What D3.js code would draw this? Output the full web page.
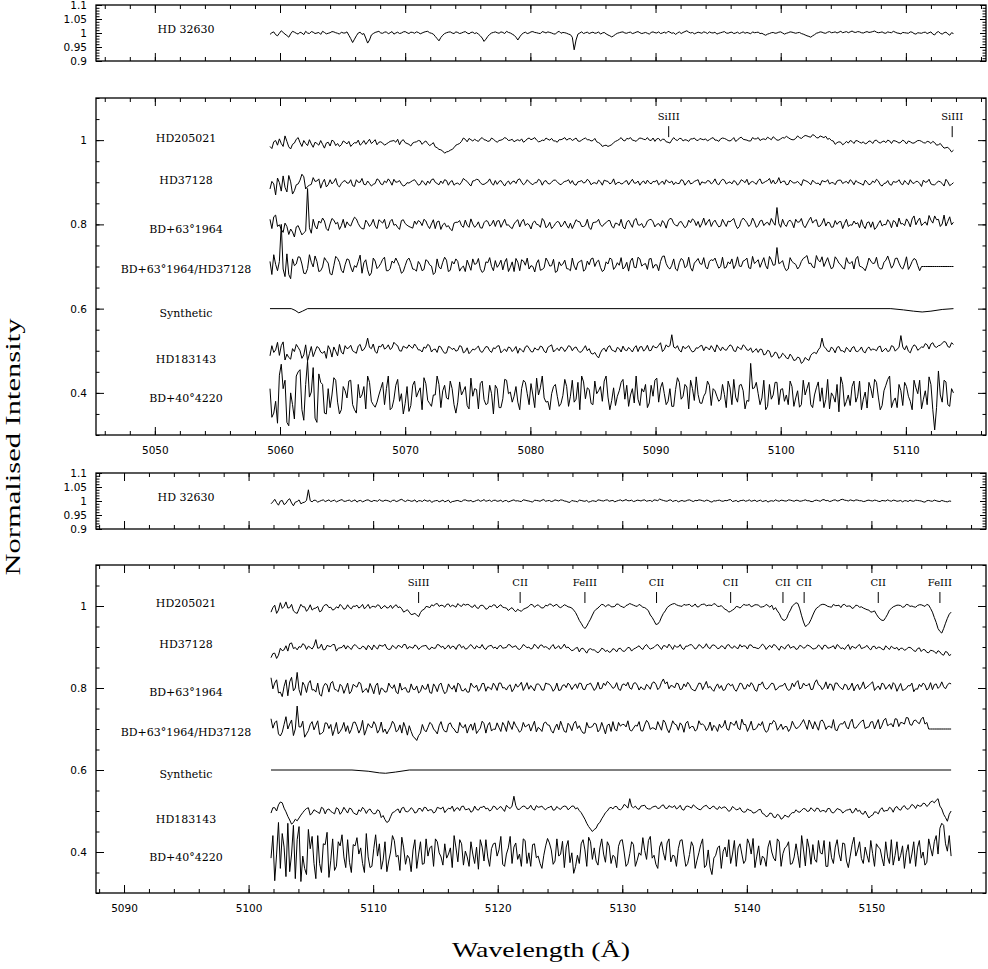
<!DOCTYPE html>
<html lang="en">
<head>
<meta charset="UTF-8" />
<title>Normalised spectra</title>
<script src="https://d3js.org/d3.v7.min.js"></script>
<style>
  body { margin: 0; background: #fff; }
  svg { display: block; }
</style>
</head>
<body>
<svg width="988" height="969"></svg>
<script>
// wavelength sampling of the spectra (Angstrom); "mid" arrays hold the samples half a step further on
const gridA = { start: 5059.2, step: 0.3 };   // upper window
const gridB = { start: 5101.8, step: 0.3 };   // lower window

// intensities, in thousandths of the continuum
const hd32630A = [995,1004,990,1008,996,985,1006,999,1003,994,1000,1005,998,1002,1006,997,1001,1004,999,1003,
  1000,992,966,990,1003,998,964,993,1002,1006,999,1004,1001,996,1003,1000,1005,998,1002,1004,
  997,1003,1006,999,988,972,992,1001,1004,998,1002,1000,1005,997,1003,1001,990,970,988,1000,
  1004,999,1002,1006,1000,992,975,995,1003,1000,1005,1001,998,1003,1004,1000,996,1006,1002,999,
  994,940,996,1004,1001,998,1003,1000,996,1002,993,986,995,1001,1004,999,1003,1000,1005,998,
  1002,996,1004,1000,998,1003,1006,999,995,1004,1002,1008,1000,997,1003,999,1002,1004,1000,996,
  1001,1005,999,1003,1000,998,1004,1002,997,1001,1003,999,992,998,1002,1000,1004,996,1001,1003,
  999,1002,996,990,985,994,1001,1003,999,1005,1002,1000,1006,1003,1001,1007,1002,1004,1000,1005,
  1003,1007,1001,1004,999,1002,1006,1000,997,1001,999,1003,996,1000,1002,998,1004,993,1005,996,
  1003,992,998];
const hd32630Amid = [1001,994,999,1002,991,997,1003,996,1000,1006,998,1003,1000,995,1002,999,1005,1001,996,1000,
  1004,980,978,1000,995,982,975,998,1004,1000,1003,997,1005,1000,998,1004,1001,1003,999,1002,
  1000,1005,1001,996,980,984,998,1003,1000,1004,998,1003,1000,1002,998,996,982,978,995,1002,
  1001,1004,998,1002,996,985,986,1000,998,1004,1002,999,1005,1000,1002,997,1003,999,1001,996,
  985,975,1000,998,1003,1001,999,1004,1000,997,990,990,999,1003,1000,1002,998,1003,1001,1000,
  999,1002,1001,1004,1000,999,1003,1001,1000,998,1005,1003,1002,1000,1001,1004,998,1001,1003,999,
  1003,1000,1002,998,1003,1001,999,1000,1004,1002,998,995,996,1001,999,1003,1000,999,1004,1001,
  1001,998,993,988,990,999,1004,1000,1003,1001,1004,1003,1001,1005,1004,1003,1005,1001,1003,1002,
  1005,1003,1002,1000,1004,1001,1003,999,1002,1000,1004,998,1001,999,1003,1001,996,1002,999,1001,
  997,1001];

const hd205021A = [985,996,988,992,1010,984,990,1002,994,999,987,991,995,988,990,993,986,997,992,989,
  995,997,990,993,988,999,996,992,1001,995,993,991,997,999,1002,998,994,990,993,996,
  998,995,992,990,984,978,974,972,976,982,990,997,1002,1004,998,999,1003,1001,997,1005,
  998,999,1002,1004,1000,996,1001,1003,998,1005,1003,1000,997,999,1002,1004,998,1001,1003,1000,
  1004,1002,998,1000,1005,1001,999,996,991,987,985,989,997,1002,1000,1004,1006,999,1002,1004,
  1001,1000,1005,1003,998,1002,995,1000,1001,1004,998,1000,1003,1005,999,1002,1003,1001,1006,1000,
  1003,1004,999,1001,997,1005,1002,1000,998,1003,1006,1002,1001,1004,1008,1000,1003,1005,1006,1001,
  1004,1006,1008,1010,1007,1011,1005,1008,1009,1004,998,994,995,992,993,997,999,995,996,993,
  997,999,995,996,994,998,999,996,995,997,998,993,996,999,994,997,992,994,989,986,
  982,978,976];
const hd205021Amid = [980,999,1003,985,997,979,993,1006,985,992,1001,983,992,999,981,995,1000,987,985,998,
  991,985,994,1000,992,990,1002,996,989,996,988,994,998,995,989,1001,992,986,995,999,
  990,998,987,994,982,977,969,973,978,988,992,1005,996,1001,1002,997,1006,1000,998,1002,
  995,1000,1006,999,1002,999,998,995,1003,1001,1006,996,1000,1005,1000,998,995,1001,1006,1003,
  999,1005,997,1003,1001,998,1004,994,985,988,987,994,999,1006,998,1003,1000,997,1005,1002,
  1006,999,997,1004,1002,996,993,1006,999,1004,1001,997,1003,1000,1004,1001,998,1004,1000,997,
  1005,1002,998,1006,1000,1007,1001,998,1006,1003,999,1003,1007,1001,1004,1000,1006,1009,1003,1001,
  1010,1004,1011,1008,1013,1006,1010,1006,1002,999,990,996,989,997,999,992,998,993,991,998,
  992,1000,993,998,1000,992,998,993,1000,991,996,993,999,997,993,996,997,988,992,981,
  983,972];

const hd37128A = [884,896,910,879,888,916,872,894,905,913,890,895,902,908,899,889,906,901,893,897,
  904,898,892,906,900,895,903,891,897,905,894,899,902,907,901,896,893,898,904,900,
  895,899,903,906,900,894,897,904,901,893,898,900,905,896,903,907,899,895,901,898,
  904,902,897,899,895,903,906,900,898,901,894,899,904,902,897,900,905,896,899,903,
  897,895,901,904,900,903,898,896,901,905,902,899,894,900,897,904,901,898,903,900,
  896,899,902,905,898,895,901,903,900,897,904,899,896,902,906,901,898,903,900,897,
  902,905,899,896,901,898,903,907,900,899,904,897,902,909,905,900,898,903,895,901,
  899,897,906,902,894,900,898,904,901,896,899,903,905,900,897,902,904,898,893,900,
  896,899,903,891,898,895,902,901,897,904,894,899,902,897,905,901,896,894,903,897,
  907,892,899];
const hd37128Amid = [902,870,899,915,877,901,880,896,919,884,893,911,903,886,907,894,896,909,889,902,
  898,906,890,900,909,894,897,895,908,896,903,908,893,900,904,891,899,901,906,893,
  904,893,897,908,897,903,906,893,904,897,894,909,902,891,904,906,895,898,908,893,
  895,904,891,903,901,897,908,894,906,897,899,907,893,904,896,905,901,894,902,906,
  904,893,902,898,907,894,899,905,893,903,896,908,899,896,902,894,907,898,893,903,
  905,896,901,894,903,906,899,894,897,906,893,905,898,904,893,899,904,896,908,894,
  907,896,901,904,893,906,899,894,902,895,908,899,904,897,896,911,902,894,905,898,
  902,892,904,899,905,897,893,902,906,899,894,905,897,902,906,894,900,896,905,894,
  903,907,894,897,904,893,900,906,894,899,906,897,902,890,900,907,894,898,901,891,
  901,895];

const bd63A = [812,818,795,788,803,776,782,794,786,780,885,779,796,808,815,790,801,810,805,797,
  792,799,808,813,794,789,804,801,796,811,803,790,807,798,793,809,802,795,791,800,
  806,812,797,801,790,808,799,794,789,803,805,797,810,793,801,798,792,804,807,800,
  795,809,803,798,793,801,811,806,797,799,804,800,793,808,796,790,802,805,799,798,
  803,800,807,795,798,792,804,806,799,801,809,796,803,797,794,805,801,810,799,802,
  797,811,806,800,795,803,808,813,798,805,799,796,804,809,807,802,798,812,805,801,
  796,803,808,810,799,795,815,804,800,806,797,810,803,798,805,840,793,800,807,804,
  812,806,798,801,817,809,795,803,796,804,794,800,807,802,795,798,801,792,797,804,
  793,788,802,796,799,805,809,794,801,797,806,813,799,815,802,798,810,820,812,801,
  796,818,805];
const bd63Amid = [790,822,799,781,795,789,770,797,775,784,792,812,789,803,808,785,814,801,788,812,
  806,796,817,802,790,810,795,812,790,807,812,793,812,800,788,811,798,793,808,809,
  797,808,790,811,806,788,803,797,785,805,809,793,798,813,793,806,791,809,796,810,
  808,793,812,799,790,807,794,812,802,789,808,799,814,792,805,795,807,794,808,791,
  790,811,806,795,812,788,805,812,795,804,809,791,802,812,789,810,793,814,798,792,
  808,812,794,802,809,791,814,802,796,807,792,810,813,797,793,815,806,795,810,794,
  812,795,806,814,790,809,810,795,815,793,808,797,805,814,798,802,812,795,810,792,
  805,814,792,810,803,811,796,814,805,793,809,806,790,812,799,808,804,811,790,806,
  806,793,809,800,811,792,806,815,802,813,794,820,808,797,806,821,803,811,795,822,
  807,799];

const ratioA = [712,728,690,800,676,681,718,706,722,684,695,710,725,688,699,714,683,702,719,691,
  704,716,687,698,727,709,692,685,713,700,717,690,695,708,711,684,702,720,694,689,
  705,693,713,701,686,699,710,715,691,706,712,697,688,703,718,707,695,690,709,700,
  714,705,692,719,698,688,710,716,703,694,700,708,691,697,712,702,686,711,706,695,
  690,701,709,715,693,704,720,711,698,692,706,717,699,703,694,710,713,698,722,701,
  707,718,696,704,712,725,698,703,694,709,715,701,697,708,719,705,699,712,714,707,
  700,696,711,718,704,701,713,720,695,707,716,710,702,724,703,745,709,698,694,712,
  705,700,719,726,708,697,715,723,711,706,699,717,704,694,709,712,718,701,696,703,
  713,708,700,695,715,711,703,720,698,706,693,712,716,690,700,700,700,700,700,700,
  700,700,700];
const ratioAmid = [681,705,712,694,730,671,702,723,706,683,728,699,712,690,721,708,680,724,710,685,
  718,699,702,712,684,716,678,720,695,707,722,690,713,720,700,688,715,709,693,712,
  690,716,704,681,718,694,722,688,712,718,689,701,715,691,705,719,686,711,721,690,
  698,715,710,688,711,719,690,713,720,702,687,716,693,720,701,717,689,702,715,694,
  720,692,712,689,713,718,700,715,688,711,720,693,709,721,699,689,720,697,718,705,
  693,719,704,690,724,707,694,718,690,719,697,722,689,713,707,721,694,716,720,696,
  722,698,706,695,723,700,715,697,724,711,698,721,694,716,704,707,714,690,721,708,
  694,712,722,707,699,726,711,700,721,694,723,708,697,721,707,694,724,699,690,720,
  707,722,694,710,725,696,719,708,694,723,701,719,702,700,700,700,700,700,700,700,
  700,700];

const synthWaveA = [5059.2, 5060.9, 5061.2, 5061.5, 5061.8, 5062.2, 5108.8, 5109.8, 5110.6, 5111.3, 5112.0, 5112.9, 5113.8];
const synthA = [600, 600, 596, 590, 594, 600, 600, 597, 594, 592, 594, 598, 600];

const hd183143A = [488,496,520,512,478,484,505,515,500,490,476,510,498,507,494,482,503,509,488,497,
  512,507,500,494,515,503,530,505,498,511,516,507,503,520,512,499,508,514,506,510,
  502,509,515,497,504,511,500,495,508,506,501,510,498,493,504,507,499,503,509,496,
  505,512,500,498,507,503,494,501,509,506,497,503,511,499,508,514,502,500,506,504,
  510,507,501,498,512,505,492,488,495,506,509,502,497,505,511,500,503,507,498,510,
  504,500,512,507,519,503,509,538,506,501,511,508,503,499,506,513,509,502,505,514,
  500,503,508,511,498,506,514,502,507,500,496,503,492,499,488,494,485,490,481,486,
  478,483,474,480,489,496,502,530,506,498,504,508,500,496,503,507,499,502,498,505,
  501,503,509,497,506,500,510,504,536,502,499,507,511,505,508,514,516,510,512,518,
  520,508,515];
const hd183143Amid = [512,502,489,521,492,480,498,508,482,514,493,486,510,497,499,512,485,499,515,492,
  505,513,497,511,500,511,508,516,494,509,504,514,507,515,500,511,506,509,516,502,
  497,506,512,503,496,509,494,510,503,499,512,495,507,498,502,511,496,510,500,507,
  511,495,504,509,498,510,506,497,512,498,507,502,509,495,511,497,506,509,498,512,
  500,509,496,505,500,494,496,483,503,498,512,500,508,497,502,508,497,512,509,499,
  513,501,508,513,498,514,512,509,512,497,505,512,497,507,511,500,507,512,497,507,
  509,501,514,500,510,503,510,501,496,505,504,490,501,485,497,482,494,483,492,477,
  485,470,484,477,494,493,508,510,499,509,495,510,500,508,497,510,498,509,495,509,
  504,500,511,502,498,512,499,508,509,512,495,514,501,509,517,504,519,508,513,522,
  510,519];

const bd40A = [410,352,328,468,430,322,372,440,455,335,475,402,340,445,420,350,365,436,378,360,
  405,428,372,352,388,415,440,380,366,395,425,410,360,385,432,398,375,356,418,390,
  412,436,382,368,395,420,405,388,428,372,378,395,415,362,392,408,422,384,375,398,
  418,365,386,430,402,392,378,410,425,372,395,435,412,388,380,398,420,368,394,415,
  392,378,425,440,386,408,372,398,415,428,390,382,370,405,432,418,395,376,385,410,
  420,376,392,435,412,398,380,368,408,425,392,414,430,382,396,375,400,418,410,392,
  385,396,428,372,390,418,405,382,470,412,398,388,360,420,395,425,408,380,372,415,
  388,366,430,410,372,395,426,412,384,362,392,420,438,368,395,415,378,428,385,364,
  410,432,390,370,418,440,380,365,405,425,392,360,412,430,385,372,420,312,452,378,
  426,368,400];
const bd40Amid = [342,380,442,410,330,400,338,450,360,420,390,460,330,425,352,410,395,430,350,415,
  388,430,360,420,395,362,425,372,378,410,372,440,365,418,380,350,415,370,428,402,
  360,422,375,395,440,365,418,385,410,352,426,405,370,435,410,362,428,372,418,350,
  410,365,432,398,378,415,360,430,398,422,365,395,440,378,360,415,392,375,432,368,
  430,385,360,426,412,375,428,405,380,440,360,412,392,425,385,368,410,440,370,402,
  365,418,430,378,425,372,410,368,436,385,420,362,410,438,376,392,428,370,405,380,
  420,365,412,432,378,420,362,380,410,425,372,430,368,385,425,372,410,395,428,368,
  405,372,395,425,365,412,380,365,432,400,378,355,420,380,370,428,392,360,402,425,
  388,425,360,405,432,365,388,420,370,415,380,430,398,362,405,438,360,365,395,430,
  372,410];

const hd32630B = [990,1006,985,1002,992,1008,983,998,990,996,1040,997,1002,999,1004,1001,998,1003,1000,1005,
  999,1003,1001,996,1002,1000,1004,998,1001,1005,999,1002,997,1003,1000,1006,998,1002,1000,996,
  1001,1004,999,995,1001,997,1003,1000,994,999,1002,998,1004,1000,997,1002,999,1005,1001,998,
  1003,1000,997,1002,999,1004,1001,998,1003,1000,996,1002,999,1005,1001,998,1004,1000,1003,999,
  995,1000,997,1002,999,996,1001,998,1003,1000,1004,1001,997,1002,1000,1005,1001,998,1003,1000,
  1004,1001,998,1003,1007,1002,999,1004,1001,997,1002,1000,1004,998,1001,1003,999,1002,996,1000,
  1003,999,1001,1005,1000,997,1002,999,1004,1001,998,1003,1000,996,1001,1004,999,1002,1000,1003,
  999,1002,1000,1004,1001,998,1003,999,1005,1002,1000,1004,1001,1006,1002,1004,1000,1003,1001,999,
  1003,1000,1002,998,1001,1004,999,1002,1000,997,1001,1003,999,1002,1000,996,1002,999,1001,998,
  1000,997,999];
const hd32630Bmid = [997,994,1000,987,1003,993,996,1004,994,1002,1001,1003,996,1002,998,1004,1001,997,1003,999,
  1002,998,1004,1001,997,1003,1000,1002,999,1001,1003,1000,1002,998,1004,1001,1003,999,1004,1001,
  998,1001,1003,999,1002,1000,997,1003,998,1001,999,1003,1001,1002,999,1004,1001,999,1003,1002,
  999,1003,1001,997,1002,1000,999,1004,1001,998,1003,1001,1003,999,1002,1000,1002,1004,1000,996,
  1002,999,1003,1000,1002,998,1000,1004,1001,1003,999,1002,1000,1004,1002,1001,1003,1000,1002,1003,
  999,1002,1004,1001,1004,1000,1003,998,1002,1000,999,1003,1001,1002,1004,1001,1003,998,1001,1002,
  1000,1002,1004,998,1002,1001,1003,1001,999,1003,1001,998,1002,1000,999,1001,1003,1000,1004,1001,
  1003,999,1002,1001,998,1002,1001,1004,1001,998,1003,1000,1005,1003,1000,1002,1004,1001,998,1002,
  1001,1003,999,1002,1000,1001,1003,999,1002,1001,998,1000,1003,1001,997,1001,1000,1003,999,1002,
  998,1000];

const hd205021B = [985,1002,990,994,1010,996,988,982,1004,998,993,990,995,986,999,1003,997,992,995,999,
  994,996,1000,1002,998,993,1004,999,997,1001,998,995,1002,1000,996,993,988,985,980,978,
  984,992,998,1003,1005,999,1001,1004,998,1000,1006,999,1002,1003,997,996,1001,999,994,998,
  1002,1000,997,995,993,990,992,987,994,999,1003,1001,998,996,1000,1004,1002,998,999,1001,
  997,990,975,958,945,960,978,992,1000,1003,1002,998,999,1004,998,1001,1006,1002,999,1001,
  996,988,972,955,962,982,996,1003,1006,1001,999,1002,1004,1000,998,1003,1005,1002,1001,1004,
  999,996,990,987,993,998,999,1002,1004,1000,1003,997,999,1001,1002,996,982,966,970,990,
  1004,1006,976,950,958,978,995,1002,1004,999,997,1001,1002,1003,999,1000,996,1001,998,993,
  990,986,980,968,965,980,994,1000,1002,997,1004,999,998,1001,1003,999,1002,985,960,938,
  945,970,985];
const hd205021Bmid = [996,982,1008,999,995,1004,984,993,998,987,1003,994,999,988,1003,996,990,998,1004,992,
  1003,993,999,995,1004,998,994,999,1003,993,1001,996,994,1003,998,985,991,979,982,974,
  990,999,996,1000,1006,1002,997,1005,1002,997,1001,1005,1004,998,1003,994,1002,992,1000,1003,
  995,1003,996,989,996,986,989,992,996,1004,997,1003,995,1002,1005,999,1004,996,1003,998,
  995,984,965,950,951,968,987,995,1004,998,1003,998,1005,1000,996,1003,1004,1000,1004,997,
  993,978,964,956,973,988,1000,1005,1003,1000,1004,1003,999,1005,998,1004,1000,1002,1006,999,
  1001,992,985,990,999,995,1004,1002,998,1003,1002,998,1004,997,991,988,972,965,982,1000,
  1008,993,961,953,967,988,998,1004,1002,998,1004,1001,996,1004,1000,994,1002,997,995,991,
  985,988,973,965,972,990,998,1002,1001,998,1003,1000,997,1003,1001,1004,994,972,945,934,
  958,980];

const hd37128B = [874,885,880,891,903,908,896,893,899,905,902,895,918,898,893,904,901,906,897,899,
  895,898,903,901,896,900,904,893,899,905,902,897,895,900,904,898,906,901,897,902,
  899,903,896,900,897,905,902,899,896,901,904,898,895,902,900,903,898,897,901,904,
  900,902,897,899,905,901,896,898,903,900,897,902,904,899,898,901,896,903,900,898,
  895,893,899,896,891,894,893,889,890,895,892,889,894,896,891,893,898,895,900,897,
  902,899,897,904,900,903,898,901,904,900,897,902,905,901,898,903,900,899,904,902,
  897,901,904,899,903,896,900,902,905,899,897,901,903,900,898,904,892,899,903,897,
  901,896,902,899,903,895,898,901,904,897,900,895,902,898,901,894,899,903,896,900,
  897,901,895,899,893,898,902,896,892,897,894,899,891,896,889,893,886,891,884,888,
  880,887,882];
const hd37128Bmid = [884,872,897,893,890,910,899,901,908,894,899,903,897,907,894,902,906,890,898,905,
  903,894,906,896,902,893,900,905,895,903,907,894,904,896,902,906,895,899,905,894,
  902,904,894,897,906,899,895,905,902,894,906,902,896,906,895,899,906,894,903,897,
  895,904,898,906,899,903,894,906,898,895,907,896,905,901,894,906,899,895,907,900,
  891,897,888,897,885,896,893,886,897,889,887,896,888,897,889,899,890,897,903,894,
  906,895,899,906,894,903,907,894,900,906,894,902,906,895,906,897,908,896,905,896,
  903,895,906,897,898,906,903,895,905,899,896,907,894,904,906,898,902,895,906,900,
  894,904,897,905,900,896,905,894,904,898,903,906,896,894,906,902,897,906,898,904,
  893,902,900,895,903,894,898,899,897,892,899,896,889,898,894,887,892,889,891,882,
  889,879];

const bd63B = [825,812,788,779,820,815,793,838,782,806,811,795,790,785,803,808,812,797,791,804,
  799,786,809,802,811,794,789,800,806,784,797,791,803,808,786,795,801,790,797,805,
  792,798,810,787,803,808,796,791,801,806,812,794,799,790,804,807,798,811,803,796,
  805,812,800,795,808,798,802,814,803,797,800,809,806,795,810,803,798,794,806,801,
  807,804,799,811,796,809,803,800,798,812,816,806,802,797,808,805,800,811,807,803,
  796,804,812,809,801,822,815,806,800,810,798,803,808,795,802,811,806,800,797,803,
  799,794,808,805,797,801,810,798,803,807,792,808,802,799,812,795,804,806,800,797,
  803,818,800,806,811,797,820,805,802,798,808,812,804,796,807,801,793,809,803,798,
  806,815,800,796,809,803,797,808,802,794,799,805,791,797,803,808,800,796,810,804,
  803,807,810];
const bd63Bmid = [798,820,790,804,781,826,800,796,814,789,818,796,812,780,811,790,816,795,809,787,
  812,792,805,814,789,799,811,786,812,800,790,812,799,790,812,799,790,810,796,788,
  807,797,789,810,791,812,786,810,797,790,808,793,790,812,801,792,811,792,800,812,
  794,812,801,804,791,810,807,794,813,806,793,810,795,812,809,792,812,795,808,812,
  796,810,812,797,808,812,794,814,799,806,812,799,813,794,810,814,797,813,795,798,
  809,797,815,796,814,810,798,805,812,796,810,814,798,793,812,796,816,804,792,810,
  806,796,811,809,792,812,798,809,813,795,809,815,797,806,810,798,805,812,794,812,
  813,798,812,806,796,813,808,796,815,810,794,812,800,809,795,812,804,796,815,803,
  811,794,805,812,797,809,813,792,811,796,806,812,798,809,812,795,813,808,799,815,
  798,812];

const ratioB = [725,715,688,692,730,712,684,756,705,680,696,718,709,687,693,714,711,699,688,702,
  694,689,716,706,700,685,713,703,710,698,692,688,705,712,697,690,703,708,682,672,
  690,698,704,712,695,708,701,693,715,700,691,706,711,704,697,689,702,713,709,695,
  699,704,716,694,709,718,701,697,705,712,707,693,700,714,710,696,703,698,706,692,
  708,713,701,697,690,704,706,712,699,703,709,694,700,716,711,705,698,702,707,696,
  710,715,703,698,707,722,700,704,712,697,709,714,701,706,699,711,708,703,696,704,
  712,707,700,717,709,702,724,711,705,698,703,708,700,696,712,716,704,699,706,701,
  709,703,715,711,722,700,707,719,714,706,702,698,709,712,705,716,703,708,719,701,
  705,718,712,700,722,708,713,725,706,715,728,711,720,716,724,712,700,700,700,700,
  700,700,700];
const ratioBmid = [702,720,683,711,700,722,700,705,719,688,711,698,720,689,715,701,684,716,694,716,
  708,699,717,690,721,698,706,718,690,717,700,697,719,693,710,716,685,694,678,684,
  711,693,716,700,688,718,694,712,704,692,716,703,690,712,715,696,719,690,716,700,
  715,694,708,720,699,708,692,716,708,695,719,704,694,717,709,690,712,719,694,714,
  696,719,708,690,716,704,714,693,716,688,712,718,695,707,711,720,695,709,718,695,
  721,699,702,718,697,716,691,720,710,715,692,719,706,695,720,712,696,717,709,694,
  703,721,697,712,720,698,711,694,719,699,713,718,692,714,721,697,712,706,694,719,
  701,708,723,699,712,718,697,722,699,707,723,696,713,719,700,724,702,714,722,704,
  717,700,723,709,726,711,705,724,716,712,727,709,722,713,729,716,700,700,700,700,
  700,700];

const synthWaveB = [5101.8, 5108.3, 5109.6, 5110.5, 5111.0, 5111.8, 5112.9, 5156.4];
const synthB = [600, 600, 597, 593, 592, 595, 600, 600];

const hd183143B = [495,508,515,520,498,478,472,476,490,502,508,495,500,494,506,503,499,493,505,498,
  502,507,496,491,499,504,502,497,494,500,489,472,486,498,505,507,499,501,504,497,
  506,509,500,503,498,507,510,502,505,499,508,511,503,506,500,504,509,512,507,503,
  510,508,505,514,506,536,504,509,511,507,505,513,510,506,508,512,503,506,510,511,
  507,512,508,496,480,462,450,458,472,488,500,509,511,504,507,513,530,508,506,512,
  514,505,509,512,507,515,506,510,513,508,504,511,510,515,507,503,512,508,510,506,
  511,509,505,502,507,504,500,498,502,495,499,504,492,488,494,484,489,483,487,492,
  496,498,502,505,500,503,507,498,501,506,497,500,504,495,502,505,498,499,494,500,
  483,490,497,503,499,501,506,508,504,510,506,509,513,515,512,518,515,524,526,512,
  492,475,500];
const hd183143Bmid = [508,500,522,507,487,468,480,483,496,506,490,503,497,509,493,505,496,508,492,509,
  495,505,493,503,509,494,505,493,503,484,479,475,496,502,495,509,498,508,495,506,
  499,508,503,495,509,505,496,507,512,506,501,512,504,497,512,502,509,505,500,512,
  503,511,499,509,512,513,504,512,505,514,502,509,512,503,509,502,511,504,512,503,
  512,505,501,488,470,456,455,468,481,496,507,505,511,503,516,507,511,512,504,513,
  507,505,511,506,513,507,513,509,505,514,502,512,507,511,504,509,514,505,512,504,
  506,510,499,511,503,508,497,505,501,496,503,494,486,495,485,492,480,490,485,496,
  503,497,506,499,508,499,506,501,497,506,495,506,502,499,503,495,507,502,492,491,
  488,498,493,508,501,509,497,511,502,513,504,516,506,512,519,511,522,520,530,505,
  484,492];

const bd40B = [385,330,472,445,340,352,465,430,328,360,455,438,335,372,420,448,380,355,425,442,
  362,375,418,435,410,350,388,365,442,420,380,352,400,428,392,436,370,385,405,360,
  425,372,390,415,432,398,368,385,410,440,376,420,402,365,395,412,430,378,388,408,
  422,405,370,395,438,412,382,365,428,398,418,386,372,392,433,405,378,390,426,412,
  374,348,392,420,405,436,382,378,410,395,425,372,388,414,430,365,396,418,380,392,
  404,428,385,370,412,398,422,376,390,408,430,365,394,414,380,418,362,405,345,392,
  415,402,388,372,428,410,395,380,420,433,390,368,385,412,400,378,425,396,414,370,
  388,392,440,366,410,418,375,398,428,365,386,412,395,422,378,390,436,405,384,412,
  375,396,420,408,366,388,430,392,378,415,398,372,425,410,385,368,432,390,440,458,
  465,402,390];
const bd40Bmid = [440,395,360,412,470,395,335,462,390,345,408,372,440,350,418,338,432,365,415,388,
  430,350,415,395,372,445,362,408,390,358,425,378,440,388,355,410,392,352,430,395,
  370,432,410,365,425,388,420,395,362,410,430,368,388,425,372,358,412,430,365,420,
  390,438,365,410,372,422,395,432,372,365,420,390,360,415,422,370,432,395,362,428,
  398,365,372,430,365,425,410,368,432,375,415,392,362,428,400,372,425,365,398,435,
  382,438,392,360,425,380,432,392,365,428,395,372,425,360,398,432,368,362,385,410,
  360,412,430,395,365,420,372,432,395,362,415,390,365,428,385,432,365,410,425,372,
  420,362,405,432,370,382,428,395,365,425,372,430,378,420,362,418,390,425,372,392,
  428,365,412,385,425,372,368,425,392,360,418,395,365,428,400,375,410,425,395,470,
  420,440];

const starNames = ["HD205021", "HD37128", "BD+63°1964", "BD+63°1964/HD37128", "Synthetic", "HD183143", "BD+40°4220"];
const starLabelLevels = [1.005, 0.905, 0.788, 0.692, 0.588, 0.48, 0.386];

const lineIonsA = ["SiIII", "SiIII"];
const lineWavesA = [5091.05, 5113.7];
const lineIonsB = ["SiIII", "CII", "FeIII", "CII", "CII", "CII", "CII", "CII", "FeIII"];
const lineWavesB = [5113.65, 5121.8, 5127.0, 5132.75, 5138.7, 5142.9, 5144.6, 5150.55, 5155.5];

const svg = d3.select("svg");
const left = 96, right = 986;
const domA = [5045.3, 5116.4], domB = [5087.75, 5159.2];

const panels = [
  { top: 5, bottom: 61, xDom: domA, yDom: [0.9, 1.1], yMajor: 0.05, yMinor: 0.01, xLabels: false,
    series: [{ grid: gridA, v: hd32630A, mid: hd32630Amid }], names: ["HD 32630"], levels: [1.012] },
  { top: 98, bottom: 435, xDom: domA, yDom: [0.3, 1.1], yMajor: 0.2, yMinor: 0.05, xLabels: true,
    series: [{ grid: gridA, v: hd205021A, mid: hd205021Amid }, { grid: gridA, v: hd37128A, mid: hd37128Amid },
             { grid: gridA, v: bd63A, mid: bd63Amid }, { grid: gridA, v: ratioA, mid: ratioAmid },
             { w: synthWaveA, v: synthA }, { grid: gridA, v: hd183143A, mid: hd183143Amid },
             { grid: gridA, v: bd40A, mid: bd40Amid }],
    names: starNames, levels: starLabelLevels, ions: lineIonsA, waves: lineWavesA },
  { top: 473, bottom: 529, xDom: domB, yDom: [0.9, 1.1], yMajor: 0.05, yMinor: 0.01, xLabels: false,
    series: [{ grid: gridB, v: hd32630B, mid: hd32630Bmid }], names: ["HD 32630"], levels: [1.012] },
  { top: 565, bottom: 893, xDom: domB, yDom: [0.3, 1.1], yMajor: 0.2, yMinor: 0.05, xLabels: true,
    series: [{ grid: gridB, v: hd205021B, mid: hd205021Bmid }, { grid: gridB, v: hd37128B, mid: hd37128Bmid },
             { grid: gridB, v: bd63B, mid: bd63Bmid }, { grid: gridB, v: ratioB, mid: ratioBmid },
             { w: synthWaveB, v: synthB }, { grid: gridB, v: hd183143B, mid: hd183143Bmid },
             { grid: gridB, v: bd40B, mid: bd40Bmid }],
    names: starNames, levels: starLabelLevels, ions: lineIonsB, waves: lineWavesB }
];

function stepValues(lo, hi, step) {
  const k0 = Math.ceil(lo / step - 1e-6), k1 = Math.floor(hi / step + 1e-6);
  return d3.range(k0, k1 + 1).map(k => +(k * step).toFixed(4));
}

// samples of one spectrum as [wavelength, intensity] pairs
function samples(s) {
  if (s.w) return s.v.map((v, i) => [s.w[i], v / 1000]);
  const pts = [];
  s.v.forEach((v, i) => {
    pts.push([s.grid.start + s.grid.step * i, v / 1000]);
    if (s.mid && i < s.mid.length) pts.push([s.grid.start + s.grid.step * (i + 0.5), s.mid[i] / 1000]);
  });
  return pts;
}

function addAxis(g, axis, transform) {
  g.append("g").attr("transform", transform).call(axis)
    .call(a => a.select(".domain").remove())
    .call(a => a.selectAll("line").attr("stroke", "#000").attr("stroke-width", 1))
    .call(a => a.selectAll("text").attr("fill", "#000")
      .style("font-family", "'DejaVu Sans', sans-serif").style("font-size", "10.5px"));
}

panels.forEach(p => {
  const x = d3.scaleLinear().domain(p.xDom).range([left, right]);
  const y = d3.scaleLinear().domain(p.yDom).range([p.bottom, p.top]);
  const g = svg.append("g");
  const none = () => "";

  const xMaj = stepValues(p.xDom[0], p.xDom[1], 10);
  const xMin = stepValues(p.xDom[0], p.xDom[1], 2);
  const yMaj = stepValues(p.yDom[0], p.yDom[1], p.yMajor);
  const yMin = stepValues(p.yDom[0], p.yDom[1], p.yMinor);
  const yLen = p.yMajor < 0.1 ? 6 : 8;

  // minor ticks on all four sides
  addAxis(g, d3.axisBottom(x).tickValues(xMin).tickSize(-4).tickFormat(none), `translate(0,${p.bottom})`);
  addAxis(g, d3.axisTop(x).tickValues(xMin).tickSize(-4).tickFormat(none), `translate(0,${p.top})`);
  addAxis(g, d3.axisLeft(y).tickValues(yMin).tickSize(-3.5).tickFormat(none), `translate(${left},0)`);
  addAxis(g, d3.axisRight(y).tickValues(yMin).tickSize(-3.5).tickFormat(none), `translate(${right},0)`);
  // major ticks
  addAxis(g, d3.axisBottom(x).tickValues(xMaj).tickSize(-8).tickPadding(12)
    .tickFormat(p.xLabels ? d => d : none), `translate(0,${p.bottom})`);
  addAxis(g, d3.axisTop(x).tickValues(xMaj).tickSize(-8).tickFormat(none), `translate(0,${p.top})`);
  addAxis(g, d3.axisLeft(y).tickValues(yMaj).tickSize(-yLen).tickPadding(9)
    .tickFormat(d => String(+d.toFixed(2))), `translate(${left},0)`);
  addAxis(g, d3.axisRight(y).tickValues(yMaj).tickSize(-yLen).tickFormat(none), `translate(${right},0)`);

  g.append("rect")
    .attr("x", left).attr("y", p.top)
    .attr("width", right - left).attr("height", p.bottom - p.top)
    .attr("fill", "none").attr("stroke", "#000").attr("stroke-width", 1.3);

  // spectra
  p.series.forEach(s => {
    g.append("path")
      .attr("d", d3.line().x(d => x(d[0])).y(d => y(d[1]))(samples(s)))
      .attr("fill", "none").attr("stroke", "#000").attr("stroke-width", 1)
      .attr("stroke-linejoin", "round");
  });

  // star labels
  g.selectAll(".star").data(p.names).enter().append("text")
    .attr("x", 186).attr("y", (d, i) => y(p.levels[i]))
    .attr("text-anchor", "middle").attr("dominant-baseline", "central")
    .style("font-family", "'DejaVu Serif', serif").style("font-size", "11px")
    .text(d => d);

  // line identifications
  if (p.ions) {
    const y1 = y(1);
    p.ions.forEach((ion, i) => {
      const xx = x(p.waves[i]);
      g.append("line").attr("x1", xx).attr("x2", xx).attr("y1", y1 - 14).attr("y2", y1 - 3)
        .attr("stroke", "#000").attr("stroke-width", 1);
      g.append("text").attr("x", xx).attr("y", y1 - 24)
        .attr("text-anchor", "middle").attr("dominant-baseline", "central")
        .style("font-family", "'DejaVu Serif', serif").style("font-size", "10px")
        .text(ion);
    });
  }
});

// axis titles
svg.append("text")
  .attr("transform", "translate(20,447) rotate(-90)")
  .attr("text-anchor", "middle")
  .attr("textLength", 257).attr("lengthAdjust", "spacingAndGlyphs")
  .style("font-family", "'Liberation Serif', serif").style("font-size", "22px")
  .text("Normalised Intensity");

svg.append("text")
  .attr("x", 541).attr("y", 957)
  .attr("text-anchor", "middle")
  .attr("textLength", 178).attr("lengthAdjust", "spacingAndGlyphs")
  .style("font-family", "'Liberation Serif', serif").style("font-size", "22px")
  .text("Wavelength (Å)");
</script>
</body>
</html>
